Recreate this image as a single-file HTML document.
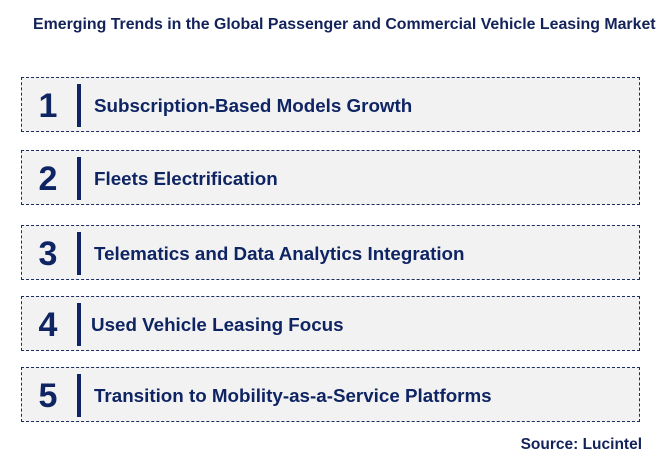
<!DOCTYPE html>
<html><head><style>
body{margin:0;width:666px;height:458px;background:#fff;font-family:"Liberation Sans",Arial,sans-serif;position:relative;overflow:hidden}
.t{position:absolute;left:33px;top:16px;font-weight:bold;font-size:15.9px;color:#13235a;white-space:nowrap}
.b{position:absolute;left:21px;width:619px;height:55px;background:#f2f2f2;border:1px dashed #1b2d63;box-sizing:border-box}
.n{position:absolute;left:14px;width:24px;text-align:center;top:9px;font-size:34px;font-weight:bold;color:#0f2463}
.bar{position:absolute;left:55px;top:6px;width:4px;height:43px;background:#0f2463}
.x{position:absolute;left:72px;top:17px;font-size:18.8px;font-weight:bold;color:#0f2463;white-space:nowrap}
.s{position:absolute;right:24px;top:436px;font-size:15.5px;font-weight:bold;color:#13235a}
</style></head><body>
<div class="t">Emerging Trends in the Global Passenger and Commercial Vehicle Leasing Market</div>
<div class="b" style="top:77px"><div class="n">1</div><div class="bar"></div><div class="x">Subscription-Based Models Growth</div></div>
<div class="b" style="top:150px"><div class="n">2</div><div class="bar"></div><div class="x">Fleets Electrification</div></div>
<div class="b" style="top:225px"><div class="n">3</div><div class="bar"></div><div class="x">Telematics and Data Analytics Integration</div></div>
<div class="b" style="top:296px"><div class="n">4</div><div class="bar"></div><div class="x" style="left:69px">Used Vehicle Leasing Focus</div></div>
<div class="b" style="top:367px"><div class="n">5</div><div class="bar"></div><div class="x">Transition to Mobility-as-a-Service Platforms</div></div>
<div class="s">Source: Lucintel</div>
</body></html>
